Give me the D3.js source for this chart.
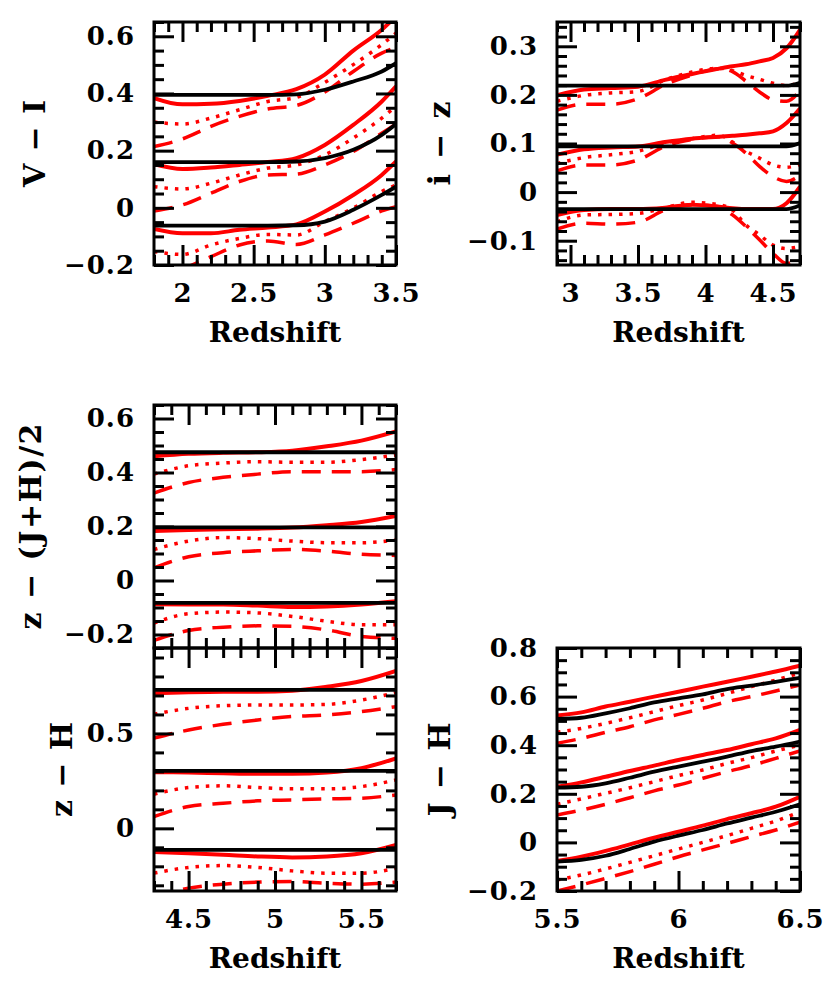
<!DOCTYPE html>
<html>
<head>
<meta charset="utf-8">
<script src="https://cdn.jsdelivr.net/npm/d3@7"></script>
<style>
  body { margin: 0; background: #fff; }
  svg text { font-family: "DejaVu Serif", serif; font-weight: bold; fill: #000; }
</style>
</head>
<body>
<svg id="vis" width="830" height="983"></svg>
<script>
// ---- data: three tracks per panel (top, middle, bottom) ----
// V - I
const viZ = [1.8, 2.0, 2.2, 2.4, 2.6, 2.8, 3.0, 3.2, 3.4, 3.5];
const viBlack = [
  [0.395, 0.395, 0.395, 0.395, 0.395, 0.397, 0.413, 0.442, 0.477, 0.506],
  [0.160, 0.160, 0.160, 0.160, 0.160, 0.162, 0.174, 0.203, 0.255, 0.293],
  [-0.062, -0.062, -0.062, -0.062, -0.062, -0.061, -0.048, -0.007, 0.045, 0.074]
];
const viSolid = [
  [0.384, 0.362, 0.364, 0.374, 0.392, 0.415, 0.466, 0.550, 0.623, 0.670],
  [0.153, 0.136, 0.141, 0.150, 0.160, 0.174, 0.220, 0.290, 0.372, 0.425],
  [-0.074, -0.089, -0.089, -0.077, -0.069, -0.058, -0.013, 0.045, 0.115, 0.162]
];
const viDot = [
  [0.300, 0.293, 0.314, 0.343, 0.372, 0.386, 0.439, 0.501, 0.571, 0.611],
  [0.074, 0.066, 0.086, 0.115, 0.139, 0.150, 0.185, 0.244, 0.314, 0.355],
  [-0.153, -0.163, -0.130, -0.107, -0.093, -0.095, -0.048, -0.001, 0.057, 0.080]
];
const viDash = [
  [0.214, 0.241, 0.285, 0.320, 0.346, 0.358, 0.405, 0.477, 0.541, 0.561],
  [-0.011, 0.010, 0.051, 0.092, 0.115, 0.118, 0.150, 0.197, 0.261, 0.293],
  [-0.260, -0.215, -0.171, -0.130, -0.116, -0.128, -0.095, -0.054, -0.011, 0.004]
];

// i - z
const izZ = [2.9, 3.1, 3.3, 3.5, 3.7, 3.9, 4.1, 4.2, 4.3, 4.4, 4.5, 4.6, 4.7];
const izBlack = [
  [0.219, 0.219, 0.219, 0.219, 0.219, 0.219, 0.219, 0.219, 0.219, 0.219, 0.219, 0.219, 0.225],
  [0.094, 0.094, 0.094, 0.094, 0.094, 0.094, 0.094, 0.094, 0.094, 0.094, 0.094, 0.094, 0.101],
  [-0.035, -0.035, -0.035, -0.035, -0.035, -0.035, -0.035, -0.035, -0.035, -0.035, -0.035, -0.035, -0.027]
];
const izSolid = [
  [0.199, 0.211, 0.214, 0.217, 0.231, 0.243, 0.254, 0.259, 0.263, 0.269, 0.276, 0.296, 0.334],
  [0.077, 0.088, 0.092, 0.094, 0.103, 0.110, 0.114, 0.116, 0.118, 0.121, 0.125, 0.142, 0.172],
  [-0.047, -0.037, -0.035, -0.035, -0.032, -0.026, -0.030, -0.033, -0.035, -0.035, -0.035, -0.023, 0.011]
];
const izDot = [
  [0.187, 0.199, 0.204, 0.207, 0.231, 0.247, 0.255, 0.250, 0.240, 0.232, 0.224, 0.219, 0.226],
  [0.059, 0.071, 0.077, 0.084, 0.101, 0.110, 0.117, 0.103, 0.084, 0.070, 0.056, 0.051, 0.057],
  [-0.061, -0.047, -0.046, -0.044, -0.032, -0.021, -0.026, -0.037, -0.068, -0.088, -0.109, -0.116, -0.112]
];
const izDash = [
  [0.169, 0.181, 0.181, 0.192, 0.221, 0.241, 0.254, 0.248, 0.228, 0.206, 0.190, 0.187, 0.209],
  [0.044, 0.056, 0.056, 0.066, 0.094, 0.108, 0.114, 0.101, 0.080, 0.053, 0.032, 0.022, 0.035],
  [-0.076, -0.064, -0.066, -0.062, -0.037, -0.026, -0.030, -0.047, -0.071, -0.098, -0.126, -0.147, -0.136]
];

// z - (J+H)/2 and z - H
const zjZ = [4.3, 4.5, 4.7, 4.9, 5.1, 5.3, 5.5, 5.7];
const zjBlack = [
  [0.475, 0.475, 0.475, 0.475, 0.475, 0.475, 0.475, 0.475],
  [0.197, 0.197, 0.197, 0.197, 0.197, 0.197, 0.197, 0.197],
  [-0.083, -0.083, -0.083, -0.083, -0.083, -0.083, -0.083, -0.083]
];
const zjSolid = [
  [0.460, 0.469, 0.473, 0.475, 0.481, 0.497, 0.518, 0.552],
  [0.183, 0.187, 0.190, 0.192, 0.196, 0.205, 0.217, 0.239],
  [-0.088, -0.089, -0.089, -0.093, -0.098, -0.096, -0.089, -0.077]
];
const zjDot = [
  [0.394, 0.425, 0.435, 0.440, 0.438, 0.438, 0.448, 0.465],
  [0.115, 0.146, 0.159, 0.155, 0.146, 0.140, 0.140, 0.150],
  [-0.158, -0.123, -0.117, -0.120, -0.133, -0.151, -0.164, -0.164]
];
const zjDash = [
  [0.324, 0.363, 0.382, 0.394, 0.403, 0.403, 0.403, 0.411],
  [0.047, 0.088, 0.103, 0.110, 0.115, 0.109, 0.097, 0.093],
  [-0.222, -0.185, -0.173, -0.168, -0.170, -0.183, -0.207, -0.214]
];

const zhZ = [4.3, 4.5, 4.7, 4.9, 5.1, 5.3, 5.5, 5.7];
const zhBlack = [
  [0.729, 0.729, 0.729, 0.729, 0.729, 0.729, 0.729, 0.729],
  [0.303, 0.303, 0.303, 0.303, 0.303, 0.303, 0.303, 0.303],
  [-0.113, -0.113, -0.113, -0.113, -0.113, -0.113, -0.113, -0.113]
];
const zhSolid = [
  [0.711, 0.717, 0.720, 0.720, 0.725, 0.746, 0.776, 0.829],
  [0.296, 0.294, 0.290, 0.287, 0.287, 0.294, 0.317, 0.369],
  [-0.125, -0.131, -0.139, -0.148, -0.153, -0.148, -0.131, -0.087]
];
const zhDot = [
  [0.601, 0.632, 0.646, 0.650, 0.650, 0.653, 0.676, 0.715],
  [0.180, 0.215, 0.224, 0.215, 0.208, 0.208, 0.220, 0.255],
  [-0.236, -0.206, -0.196, -0.206, -0.224, -0.236, -0.236, -0.210]
];
const zhDash = [
  [0.475, 0.518, 0.548, 0.571, 0.589, 0.597, 0.615, 0.641],
  [0.062, 0.115, 0.132, 0.145, 0.150, 0.155, 0.159, 0.176],
  [-0.360, -0.315, -0.294, -0.283, -0.280, -0.289, -0.294, -0.283]
];

// J - H
const jhZ = [5.5, 5.6, 5.7, 5.8, 5.9, 6.0, 6.1, 6.2, 6.3, 6.4, 6.5];
const jhBlack = [
  [0.508, 0.513, 0.531, 0.552, 0.576, 0.593, 0.609, 0.631, 0.645, 0.661, 0.677],
  [0.225, 0.229, 0.243, 0.266, 0.291, 0.312, 0.332, 0.353, 0.376, 0.394, 0.415],
  [-0.079, -0.072, -0.055, -0.027, 0.003, 0.028, 0.051, 0.078, 0.102, 0.126, 0.157]
];
const jhSolid = [
  [0.522, 0.535, 0.559, 0.579, 0.600, 0.620, 0.641, 0.661, 0.682, 0.703, 0.727],
  [0.229, 0.247, 0.270, 0.294, 0.316, 0.339, 0.360, 0.380, 0.404, 0.428, 0.463],
  [-0.077, -0.059, -0.035, -0.008, 0.019, 0.044, 0.069, 0.096, 0.120, 0.147, 0.188]
];
const jhDot = [
  [0.453, 0.469, 0.490, 0.513, 0.538, 0.563, 0.586, 0.613, 0.641, 0.668, 0.697],
  [0.157, 0.179, 0.202, 0.225, 0.250, 0.275, 0.298, 0.325, 0.349, 0.376, 0.401],
  [-0.155, -0.134, -0.109, -0.082, -0.055, -0.027, 0.000, 0.028, 0.058, 0.088, 0.126]
];
const jhDash = [
  [0.408, 0.428, 0.453, 0.476, 0.504, 0.527, 0.552, 0.579, 0.600, 0.623, 0.648],
  [0.113, 0.133, 0.157, 0.184, 0.212, 0.236, 0.264, 0.291, 0.316, 0.346, 0.376],
  [-0.200, -0.175, -0.148, -0.120, -0.090, -0.059, -0.031, -0.004, 0.024, 0.051, 0.083]
];

// ---- panel layout ----
const panels = [
  { id: "vi", box: [154, 22, 396, 265], xd: [1.8, 3.5], yd: [-0.2, 0.65],
    z: viZ, black: viBlack, solid: viSolid, dot: viDot, dash: viDash,
    xMajor: [2, 2.5, 3, 3.5], xStep: 0.1, yMajor: [-0.2, 0, 0.2, 0.4, 0.6], yStep: 0.05,
    xLabels: true, ylabel: "V − I", ylx: 45, ylen: 87 },
  { id: "iz", box: [557, 22, 800, 265], xd: [2.9, 4.7], yd: [-0.15, 0.35],
    z: izZ, black: izBlack, solid: izSolid, dot: izDot, dash: izDash,
    xMajor: [3, 3.5, 4, 4.5], xStep: 0.1, yMajor: [-0.1, 0, 0.1, 0.2, 0.3], yStep: 0.02,
    xLabels: true, ylabel: "i − z", ylx: 450, ylen: 84 },
  { id: "zj", box: [154, 405, 396, 648], xd: [4.3, 5.7], yd: [-0.25, 0.65],
    z: zjZ, black: zjBlack, solid: zjSolid, dot: zjDot, dash: zjDash,
    xMajor: [4.5, 5, 5.5], xStep: 0.1, yMajor: [-0.2, 0, 0.2, 0.4, 0.6], yStep: 0.05,
    xLabels: false, ylabel: "z − (J+H)/2", ylx: 41, ylen: 206 },
  { id: "zh", box: [154, 648, 396, 891], xd: [4.3, 5.7], yd: [-0.33, 0.95],
    z: zhZ, black: zhBlack, solid: zhSolid, dot: zhDot, dash: zhDash,
    xMajor: [4.5, 5, 5.5], xStep: 0.1, yMajor: [0, 0.5], yStep: 0.1,
    xLabels: true, ylabel: "z − H", ylx: 72, ylen: 95 },
  { id: "jh", box: [557, 648, 800, 891], xd: [5.5, 6.5], yd: [-0.2, 0.8],
    z: jhZ, black: jhBlack, solid: jhSolid, dot: jhDot, dash: jhDash,
    xMajor: [5.5, 6, 6.5], xStep: 0.1, yMajor: [-0.2, 0, 0.2, 0.4, 0.6, 0.8], yStep: 0.05,
    xLabels: true, ylabel: "J − H", ylx: 450, ylen: 94 }
];

const svg = d3.select("svg#vis");
const defs = svg.append("defs");

const fmt = d => String(Math.round(d * 100) / 100).replace("-", "\u2212");

function minorTicks(dom, step, major) {
  const i0 = Math.ceil(dom[0] / step - 1e-9), i1 = Math.floor(dom[1] / step + 1e-9);
  return d3.range(i0, i1 + 1).map(i => +(i * step).toFixed(4))
    .filter(v => !major.some(m => Math.abs(m - v) < 1e-6));
}

panels.forEach(p => {
  const [x0, y0, x1, y1] = p.box;
  const x = d3.scaleLinear().domain(p.xd).range([x0, x1]);
  const y = d3.scaleLinear().domain(p.yd).range([y1, y0]);

  const g = svg.append("g").attr("id", p.id);

  defs.append("clipPath").attr("id", "clip-" + p.id)
    .append("rect").attr("x", x0).attr("y", y0).attr("width", x1 - x0).attr("height", y1 - y0);

  const lines = g.append("g").attr("clip-path", "url(#clip-" + p.id + ")");
  const line = d3.line().x((d, i) => x(p.z[i])).y(d => y(d)).curve(d3.curveMonotoneX);

  const styles = [
    { key: "dash", color: "#ff0000", dash: "19,11", w: 3.5 },
    { key: "dot", color: "#ff0000", dash: "3.5,7", w: 3.5 },
    { key: "solid", color: "#ff0000", dash: null, w: 4 },
    { key: "black", color: "#000000", dash: null, w: 3.8 }
  ];
  styles.forEach(s => {
    lines.selectAll("path." + s.key)
      .data(p[s.key])
      .enter()
      .append("path")
      .attr("class", s.key)
      .attr("d", line)
      .attr("fill", "none")
      .attr("stroke", s.color)
      .attr("stroke-width", s.w)
      .attr("stroke-dasharray", s.dash);
  });

  // axes: major + minor ticks on all four sides, pointing inward
  const xMinor = minorTicks(p.xd, p.xStep, p.xMajor);
  const yMinor = minorTicks(p.yd, p.yStep, p.yMajor);

  const axes = [
    [d3.axisBottom(x).tickValues(p.xMajor).tickSize(-20).tickPadding(19)
      .tickFormat(p.xLabels ? fmt : ""), y1, true],
    [d3.axisBottom(x).tickValues(xMinor).tickSize(-10).tickFormat(""), y1, true],
    [d3.axisTop(x).tickValues(p.xMajor).tickSize(-20).tickFormat(""), y0, true],
    [d3.axisTop(x).tickValues(xMinor).tickSize(-10).tickFormat(""), y0, true],
    [d3.axisLeft(y).tickValues(p.yMajor).tickSize(-20).tickPadding(19).tickFormat(fmt), x0, false],
    [d3.axisLeft(y).tickValues(yMinor).tickSize(-10).tickFormat(""), x0, false],
    [d3.axisRight(y).tickValues(p.yMajor).tickSize(-20).tickFormat(""), x1, false],
    [d3.axisRight(y).tickValues(yMinor).tickSize(-10).tickFormat(""), x1, false]
  ];
  axes.forEach(([ax, pos, horiz]) => {
    const a = g.append("g")
      .attr("transform", horiz ? "translate(0," + pos + ")" : "translate(" + pos + ",0)")
      .call(ax);
    a.select(".domain").remove();
    a.selectAll(".tick line").attr("stroke", "#000").attr("stroke-width", 3);
    a.selectAll(".tick text").attr("font-size", 26).attr("fill", "#000")
      .style("font-family", "'DejaVu Serif', serif").style("font-weight", "bold")
      .style("letter-spacing", "1px");
  });

  g.append("rect")
    .attr("x", x0).attr("y", y0)
    .attr("width", x1 - x0).attr("height", y1 - y0)
    .attr("fill", "none").attr("stroke", "#000").attr("stroke-width", 3);

  if (p.xLabels) {
    g.append("text")
      .attr("x", (x0 + x1) / 2).attr("y", y1 + 77)
      .attr("text-anchor", "middle").attr("font-size", 28)
      .text("Redshift");
  }

  g.append("text")
    .attr("transform", "translate(" + p.ylx + "," + (y0 + y1) / 2 + ") rotate(-90)")
    .attr("text-anchor", "middle").attr("font-size", 30)
    .attr("textLength", p.ylen).attr("lengthAdjust", "spacing")
    .text(p.ylabel);
});
</script>
</body>
</html>
